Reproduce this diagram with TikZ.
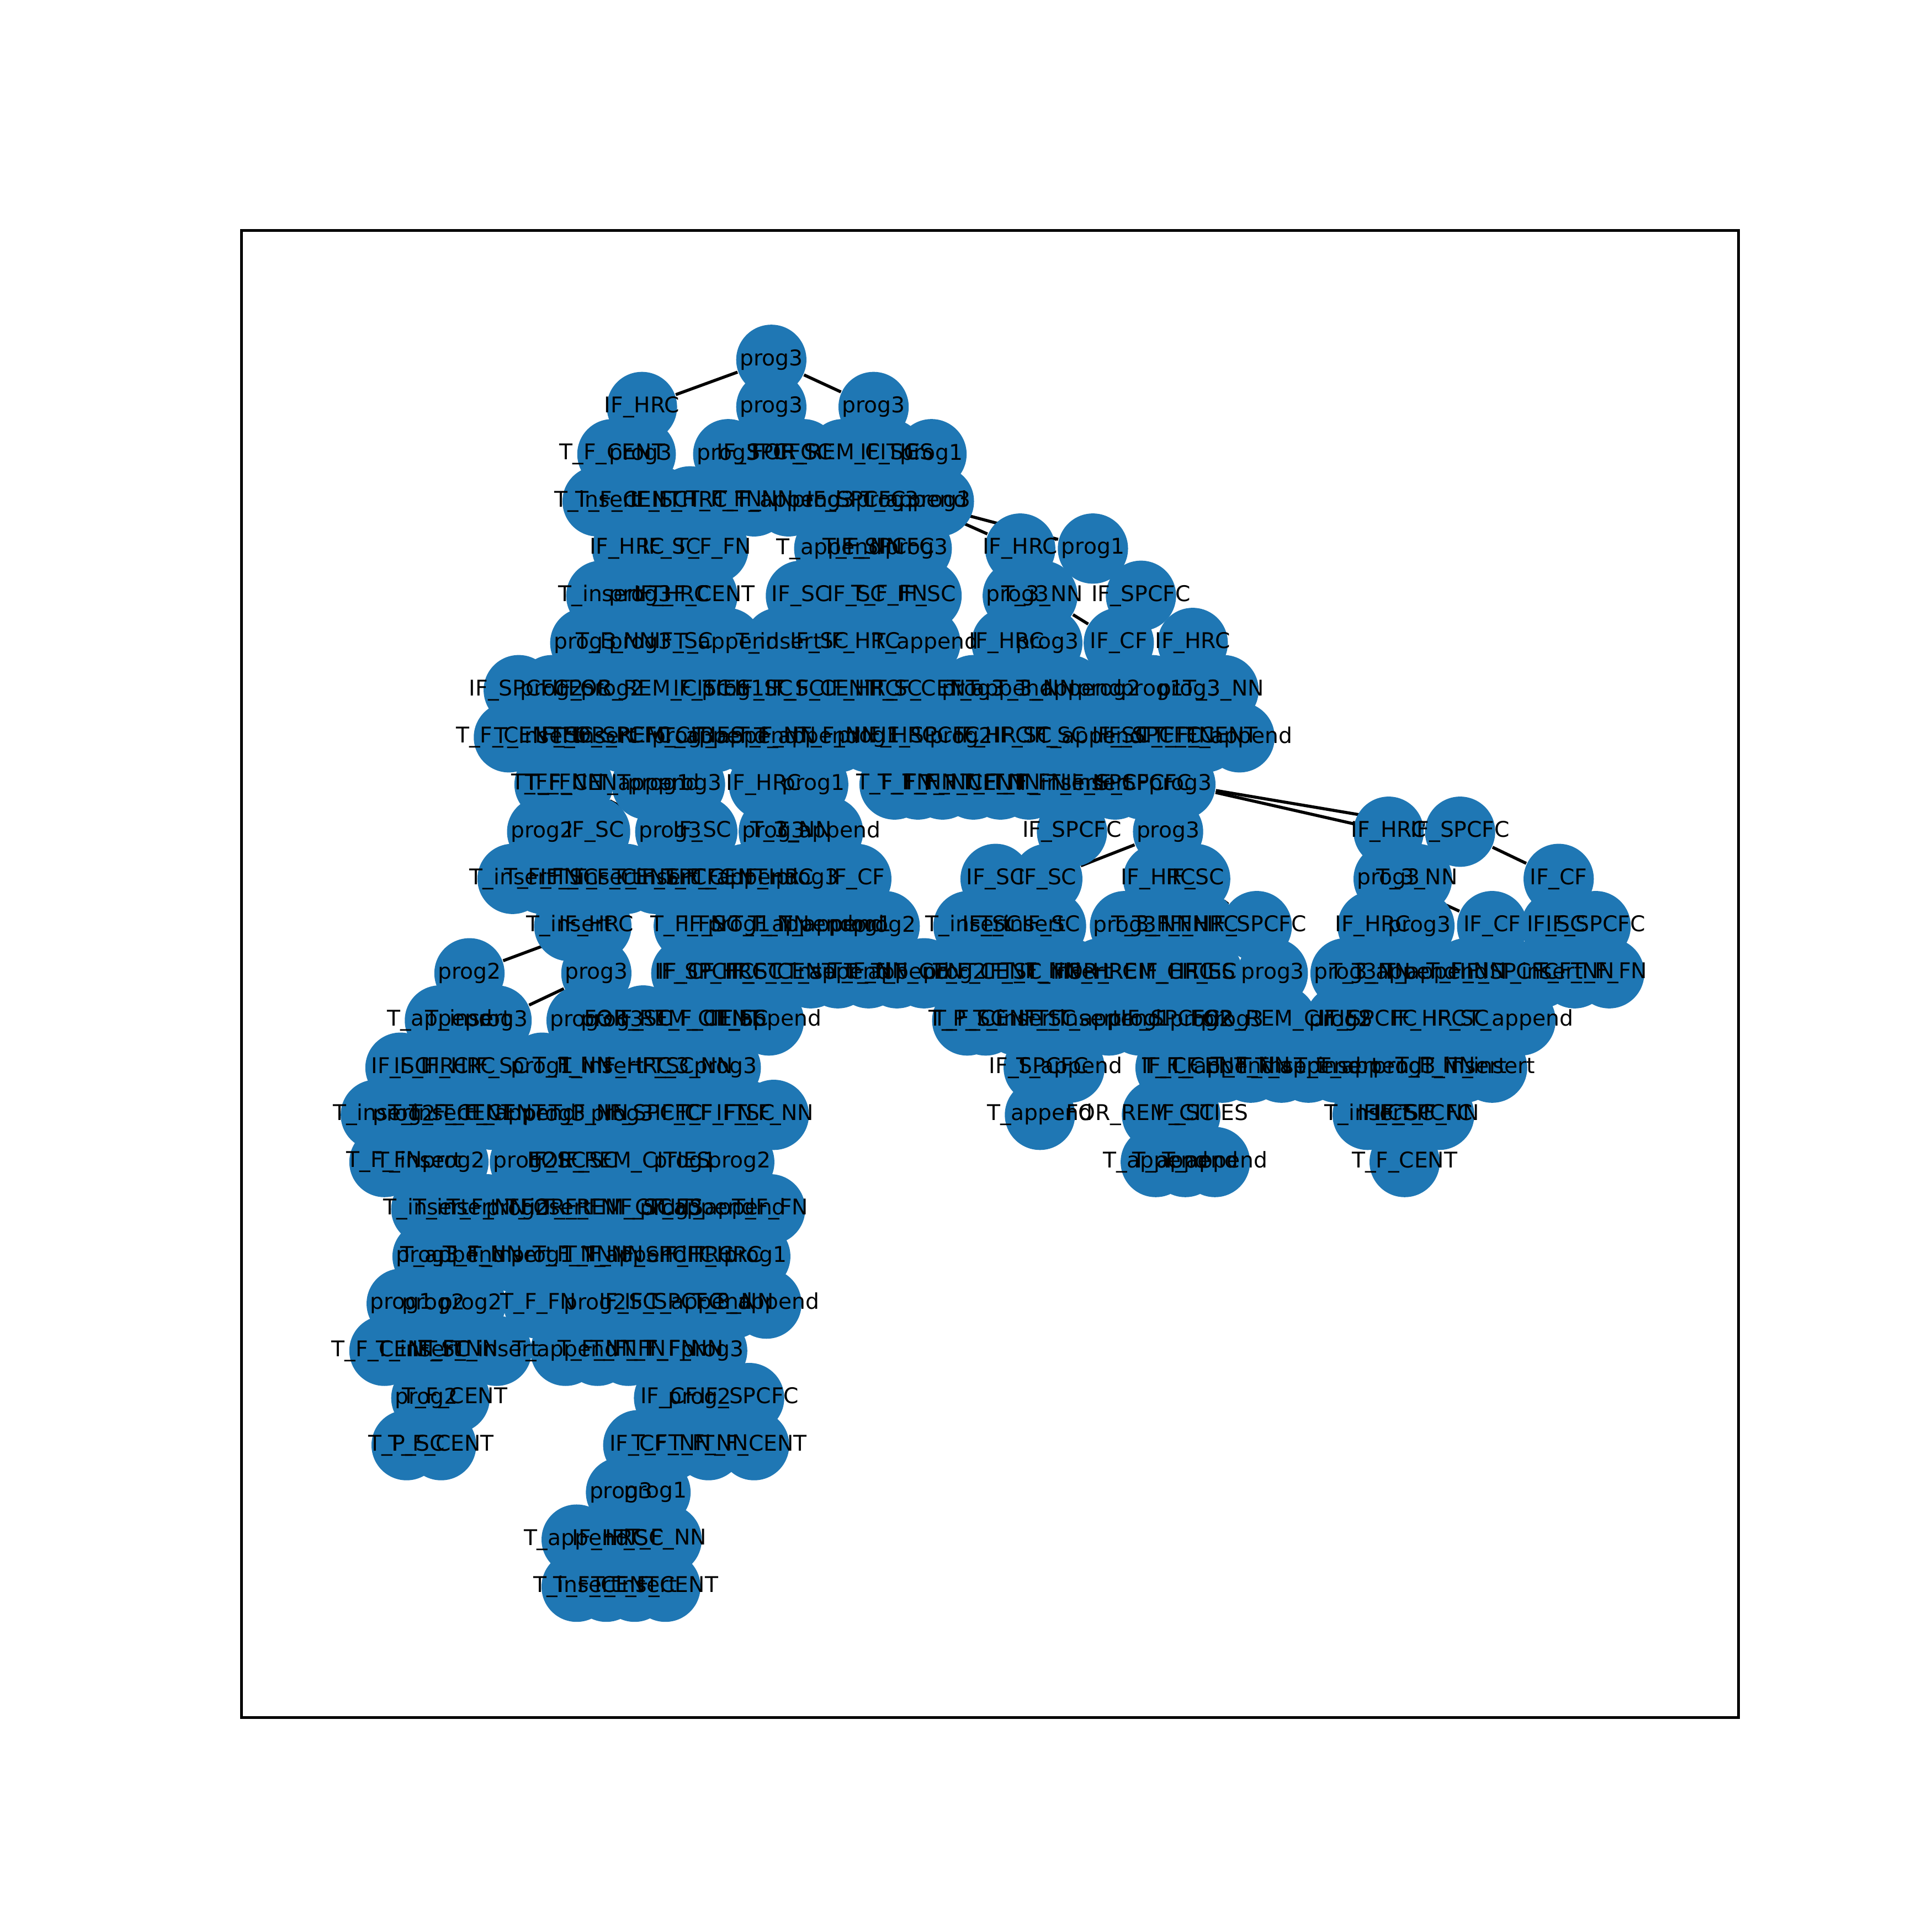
\documentclass[tikz,border=0pt]{standalone}
\usepackage{fontspec}
\setmainfont{DejaVu Sans}
\usetikzlibrary{backgrounds}
\definecolor{nxblue}{HTML}{1F77B4}

\begin{document}
\begin{tikzpicture}[
  x=0.1mm, y=-0.1mm,
  vtx/.style={circle, fill=nxblue, minimum size=5.7mm, inner sep=0pt},
  lbl/.style={inner sep=0pt, font=\fontsize{5}{6}\selectfont},
  edge/.style={line width=0.7pt}
]
\useasboundingbox (0,0) rectangle (1568,1568);
\draw[line width=0.55pt] (196,187) rectangle (1411,1394);

% x / level / label
\def\vlist{626/0/prog3,
521/1/IF\_HRC, 626/1/prog3, 709/1/prog3,
497/2/T\_F\_CENT, 520/2/prog3, 591/2/prog3, 622/2/IF\_SPCFC, 652/2/IF\_SC, 684/2/FOR\_REM\_CITIES, 722/2/IF\_SC, 756/2/prog1,
485/3/T\_insert, 510/3/T\_F\_CENT, 535/3/IF\_SC, 560/3/IF\_HRC, 588/3/T\_F\_FN, 612/3/T\_F\_NN, 640/3/T\_append, 668/3/prog3, 695/3/IF\_SPCFC, 720/3/prog3, 742/3/T\_append, 762/3/prog3,
509/4/IF\_HRC, 545/4/IF\_SC, 579/4/T\_F\_FN, 673/4/T\_append, 700/4/T\_F\_NN, 718/4/IF\_SPCFC, 744/4/prog3, 828/4/IF\_HRC, 887/4/prog1,
488/5/T\_insert, 520/5/prog3, 545/5/IF\_HRC, 570/5/T\_F\_CENT, 650/5/IF\_SC, 695/5/IF\_SC, 722/5/T\_F\_FN, 752/5/IF\_SC, 826/5/prog3, 846/5/T\_3\_NN, 926/5/IF\_SPCFC,
475/6/prog3, 500/6/T\_F\_NN, 520/6/prog3, 555/6/IF\_SC, 590/6/T\_append, 632/6/T\_insert, 665/6/IF\_SC, 700/6/IF\_HRC, 751/6/T\_append, 817/6/IF\_HRC, 850/6/prog3, 908/6/IF\_CF, 968/6/IF\_HRC,
421/7/IF\_SPCFC, 448/7/prog2, 472/7/IF\_SC, 497/7/prog2, 535/7/FOR\_REM\_CITIES, 570/7/IF\_SC, 595/7/prog1, 620/7/IF\_SC, 645/7/IF\_SC, 670/7/T\_F\_CENT, 700/7/IF\_HRC, 725/7/IF\_SC, 752/7/T\_F\_CENT, 790/7/prog3, 812/7/T\_append, 840/7/T\_3\_NN, 868/7/T\_append, 900/7/prog2, 935/7/prog1, 965/7/prog3, 993/7/T\_3\_NN,
413/8/T\_F\_CENT, 436/8/T\_insert, 458/8/IF\_SC, 482/8/T\_insert, 505/8/IF\_SPCFC, 530/8/FOR\_REM\_CITIES, 555/8/prog3, 580/8/T\_append, 605/8/T\_append, 630/8/T\_F\_NN, 655/8/T\_append, 680/8/T\_F\_NN, 705/8/prog1, 730/8/IF\_HRC, 755/8/IF\_SPCFC, 780/8/prog2, 806/8/IF\_HRC, 830/8/IF\_SC, 858/8/IF\_SC, 885/8/T\_append, 910/8/IF\_SC, 935/8/IF\_SPCFC, 955/8/T\_F\_FN, 978/8/T\_F\_CENT, 1006/8/T\_append,
446/9/T\_F\_FN, 458/9/T\_F\_NN, 469/9/T\_F\_CENT, 525/9/T\_append, 535/9/prog1, 560/9/prog3, 620/9/IF\_HRC, 660/9/prog1, 726/9/T\_F\_FN, 745/9/T\_F\_NN, 765/9/T\_F\_NN, 790/9/T\_F\_CENT, 812/9/T\_F\_NN, 835/9/T\_F\_FN, 860/9/T\_insert, 885/9/T\_insert, 905/9/IF\_SPCFC, 927/9/IF\_SPCFC, 958/9/prog3,
440/10/prog2, 483/10/IF\_SC, 544/10/prog3, 570/10/IF\_SC, 628/10/prog3, 642/10/T\_3\_NN, 672/10/T\_append, 870/10/IF\_SPCFC, 948/10/prog3, 1127/10/IF\_HRC, 1185/10/IF\_SPCFC,
416/11/T\_insert, 440/11/T\_F\_FN, 462/11/IF\_SC, 485/11/T\_insert, 508/11/T\_F\_CENT, 532/11/T\_insert, 556/11/IF\_SPCFC, 580/11/T\_F\_CENT, 605/11/T\_append, 630/11/IF\_HRC, 655/11/prog3, 695/11/IF\_CF, 808/11/IF\_SC, 850/11/IF\_SC, 940/11/IF\_HRC, 970/11/IF\_SC, 1127/11/prog3, 1150/11/T\_3\_NN, 1265/11/IF\_CF,
462/12/T\_insert, 484/12/IF\_HRC, 559/12/T\_F\_FN, 578/12/IF\_SC, 600/12/prog1, 625/12/T\_F\_NN, 650/12/T\_append, 675/12/T\_append, 698/12/prog1, 718/12/prog2, 786/12/T\_insert, 805/12/IF\_SC, 830/12/T\_insert, 853/12/IF\_SC, 913/12/prog3, 935/12/T\_3\_NN, 950/12/T\_F\_FN, 975/12/IF\_HRC, 1020/12/IF\_SPCFC, 1114/12/IF\_HRC, 1152/12/prog3, 1211/12/IF\_CF, 1263/12/IF\_SC, 1295/12/IF\_SPCFC,
381/13/prog2, 484/13/prog3, 557/13/IF\_CF, 572/13/IF\_SPCFC, 592/13/IF\_HRC, 612/13/IF\_SC, 635/13/T\_F\_CENT, 658/13/T\_insert, 680/13/T\_append, 705/13/T\_F\_NN, 728/13/T\_append, 750/13/T\_F\_CENT, 775/13/prog2, 800/13/T\_F\_CENT, 822/13/IF\_SC, 845/13/T\_F\_NN, 868/13/T\_insert, 893/13/IF\_HRC, 929/13/FOR\_REM\_CITIES, 955/13/IF\_HRC, 980/13/IF\_SC, 1033/13/prog3, 1092/13/prog3, 1112/13/T\_3\_NN, 1140/13/T\_append, 1165/13/T\_append, 1190/13/T\_F\_NN, 1225/13/IF\_SPCFC, 1250/13/T\_insert, 1278/13/T\_F\_NN, 1306/13/T\_F\_FN,
357/14/T\_append, 380/14/T\_insert, 403/14/prog3, 472/14/prog3, 497/14/prog3, 522/14/IF\_SC, 548/14/FOR\_REM\_CITIES, 575/14/T\_F\_CENT, 600/14/IF\_SC, 624/14/T\_append, 785/14/T\_P\_SC, 800/14/T\_F\_CENT, 825/14/T\_insert, 850/14/IF\_SC, 875/14/T\_insert, 900/14/T\_append, 925/14/prog1, 950/14/IF\_SPCFC, 975/14/prog2, 1000/14/prog3, 1040/14/FOR\_REM\_CITIES, 1088/14/prog2, 1110/14/IF\_SPCFC, 1160/14/IF\_HRC, 1185/14/IF\_SC, 1234/14/T\_append,
325/15/IF\_SC, 350/15/IF\_HRC, 372/15/IF\_HRC, 405/15/IF\_SC, 440/15/prog1, 465/15/T\_F\_NN, 488/15/T\_insert, 515/15/IF\_HRC, 540/15/IF\_SC, 562/15/T\_3\_NN, 589/15/prog3, 843/15/IF\_SPCFC, 868/15/T\_append, 950/15/IF\_CF, 970/15/T\_F\_CENT, 992/15/T\_append, 1015/15/T\_F\_NN, 1040/15/T\_insert, 1062/15/T\_append, 1085/15/T\_insert, 1112/15/T\_append, 1140/15/prog3, 1165/15/T\_F\_NN, 1188/15/T\_insert, 1211/15/T\_insert,
305/16/T\_insert, 328/16/prog2, 350/16/T\_insert, 375/16/T\_F\_CENT, 400/16/T\_F\_CENT, 425/16/T\_append, 450/16/prog3, 478/16/T\_F\_NN, 505/16/prog3, 530/16/IF\_SPCFC, 555/16/IF\_CF, 580/16/T\_F\_FN, 605/16/IF\_SC, 628/16/T\_F\_NN, 844/16/T\_append, 939/16/FOR\_REM\_CITIES, 962/16/IF\_SC, 1110/16/T\_insert, 1125/16/IF\_CF, 1140/16/IF\_SC, 1155/16/IF\_SPCFC, 1168/16/T\_F\_NN,
312/17/T\_F\_FN, 340/17/T\_insert, 368/17/prog2, 426/17/prog2, 452/17/IF\_SC, 478/17/IF\_SC, 503/17/FOR\_REM\_CITIES, 556/17/prog1, 600/17/prog2, 938/17/T\_append, 962/17/T\_append, 986/17/T\_append, 1140/17/T\_F\_CENT,
346/18/T\_insert, 370/18/T\_insert, 395/18/T\_F\_NN, 420/18/prog2, 445/18/T\_insert, 470/18/T\_F\_FN, 497/18/FOR\_REM\_CITIES, 522/18/IF\_SC, 545/18/prog3, 570/18/T\_append, 595/18/T\_append, 625/18/T\_F\_FN,
347/19/prog3, 368/19/T\_append, 392/19/T\_F\_NN, 415/19/T\_insert, 440/19/prog1, 465/19/T\_F\_NN, 490/19/T\_F\_NN, 515/19/T\_append, 540/19/IF\_SPCFC, 565/19/IF\_HRC, 588/19/IF\_HRC, 613/19/prog1,
326/20/prog1, 352/20/prog2, 382/20/prog2, 437/20/T\_F\_FN, 483/20/prog2, 510/20/IF\_SC, 547/20/IF\_SPCFC, 568/20/T\_append, 595/20/T\_3\_NN, 622/20/T\_append,
312/21/T\_F\_CENT, 340/21/T\_insert, 358/21/IF\_SC, 372/21/T\_F\_NN, 403/21/T\_insert, 459/21/T\_append, 485/21/T\_F\_NN, 510/21/T\_F\_FN, 535/21/T\_F\_FN, 555/21/T\_F\_NN, 578/21/prog3,
346/22/prog2, 369/22/T\_F\_CENT, 543/22/IF\_CF, 568/22/prog2, 608/22/IF\_SPCFC,
330/23/T\_P\_SC, 358/23/T\_F\_CENT, 518/23/IF\_CF, 545/23/T\_F\_NN, 575/23/T\_F\_NN, 612/23/T\_F\_CENT,
504/24/prog3, 532/24/prog1,
468/25/T\_append, 495/25/IF\_HRC, 515/25/IF\_SC, 541/25/T\_F\_NN,
468/26/T\_insert, 492/26/T\_F\_CENT, 515/26/T\_insert, 540/26/T\_F\_CENT}

% circles first, then all labels on top
\foreach \x/\r/\lab in \vlist
  \node[vtx] (v\r-\x) at (\x,{292+38.3*\r}) {};
\foreach \x/\r/\lab in \vlist
  \node[lbl] (t\r-\x) at (v\r-\x) {\lab};

\begin{scope}[on background layer]
\draw[edge] (v0-626) -- (v1-521);
\draw[edge] (v0-626) -- (v1-709);
\draw[edge] (v3-742) -- (v4-828);
\draw[edge] (v3-742) -- (v4-887);
\draw[edge] (v5-846) -- (v6-908);
\draw[edge] (v9-469) -- (v10-544);
\draw[edge] (v9-958) -- (v10-1127);
\draw[edge] (v9-958) -- (v10-1185);
\draw[edge] (v10-948) -- (v11-850);
\draw[edge] (v10-1185) -- (v11-1265);
\draw[edge] (v11-970) -- (v12-1020);
\draw[edge] (v11-1127) -- (v12-1211);
\draw[edge] (v12-484) -- (v13-381);
\draw[edge] (v13-484) -- (v14-403);
\end{scope}
\end{tikzpicture}
\end{document}
